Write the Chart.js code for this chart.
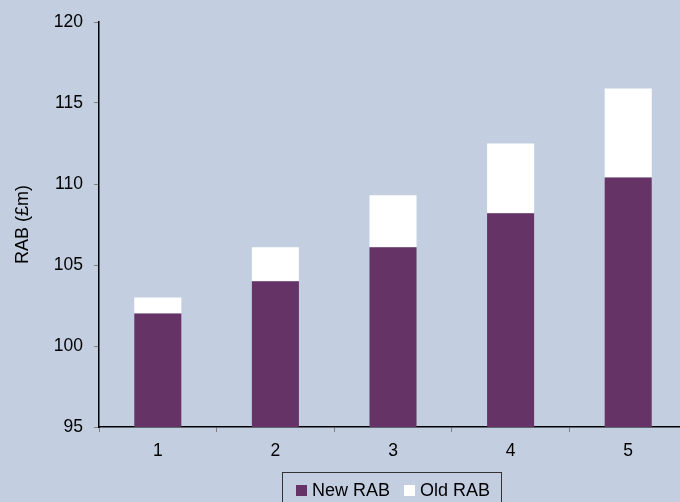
<!DOCTYPE html>
<html>
<head>
<meta charset="utf-8">
<script src="https://cdn.jsdelivr.net/npm/chart.js@4"></script>
<style>
  html, body { margin: 0; padding: 0; background: #c3cfe1; overflow: hidden; }
  #chart { display: block; }
</style>
</head>
<body>
<canvas id="chart" width="687" height="502"></canvas>
<script>
var years = ['1', '2', '3', '4', '5'];
var newRab = [102, 104, 106.1, 108.2, 110.4];
var oldRab = [1, 2.1, 3.2, 4.3, 5.5]; // stacked on top of new RAB
var yTicks = [95, 100, 105, 110, 115, 120];

var font = "Arial, 'Liberation Sans', sans-serif";

// legend with a border box, like the original
var boxLegend = {
	id: 'boxLegend',
	afterDraw: function(chart) {
		var ctx = chart.ctx;
		ctx.save();
		ctx.strokeStyle = '#333333';
		ctx.lineWidth = 1;
		ctx.strokeRect(282.5, 472.5, 219, 40);
		ctx.font = '18px ' + font;
		ctx.textBaseline = 'middle';
		var x = 296;
		chart.data.datasets.forEach(function(ds) {
			ctx.fillStyle = ds.backgroundColor;
			ctx.fillRect(x, 485, 11, 11);
			ctx.fillStyle = '#000000';
			ctx.fillText(ds.label, x + 16, 491);
			x += 16 + ctx.measureText(ds.label).width + 14;
		});
		ctx.restore();
	}
};

new Chart(document.getElementById('chart'), {
	type: 'bar',
	data: {
		labels: years,
		datasets: [{
			label: 'New RAB',
			data: newRab,
			backgroundColor: '#663366',
			barPercentage: 0.4,
			categoryPercentage: 1,
		}, {
			label: 'Old RAB',
			data: oldRab,
			backgroundColor: '#ffffff',
			barPercentage: 0.4,
			categoryPercentage: 1,
		}],
	},
	options: {
		responsive: false,
		animation: false,
		events: [],
		layout: { padding: { left: 0, top: 22, right: 0, bottom: 0 } },
		plugins: {
			legend: { display: false },
			tooltip: { enabled: false },
		},
		scales: {
			x: {
				stacked: true,
				border: { color: '#000000', width: 1.5 },
				grid: { drawOnChartArea: false, tickLength: 5, tickColor: '#808080', offset: true },
				ticks: { color: '#000000', font: { size: 17.5, family: font }, padding: 9 },
				afterFit: function(scale) { scale.height = 75; },
			},
			y: {
				stacked: true,
				min: 95,
				max: 120,
				afterBuildTicks: function(scale) {
					scale.ticks = yTicks.map(function(v) { return { value: v }; });
				},
				border: { color: '#000000', width: 1.5 },
				grid: { drawOnChartArea: false, tickLength: 5, tickColor: '#808080' },
				ticks: { color: '#000000', font: { size: 17.5, family: font }, padding: 11 },
				title: {
					display: true,
					text: 'RAB (£m)',
					color: '#000000',
					font: { size: 18, family: font },
					padding: { top: 12, bottom: 0 },
				},
				afterFit: function(scale) { scale.width = 99; },
			},
		},
	},
	plugins: [boxLegend],
});
</script>
</body>
</html>
